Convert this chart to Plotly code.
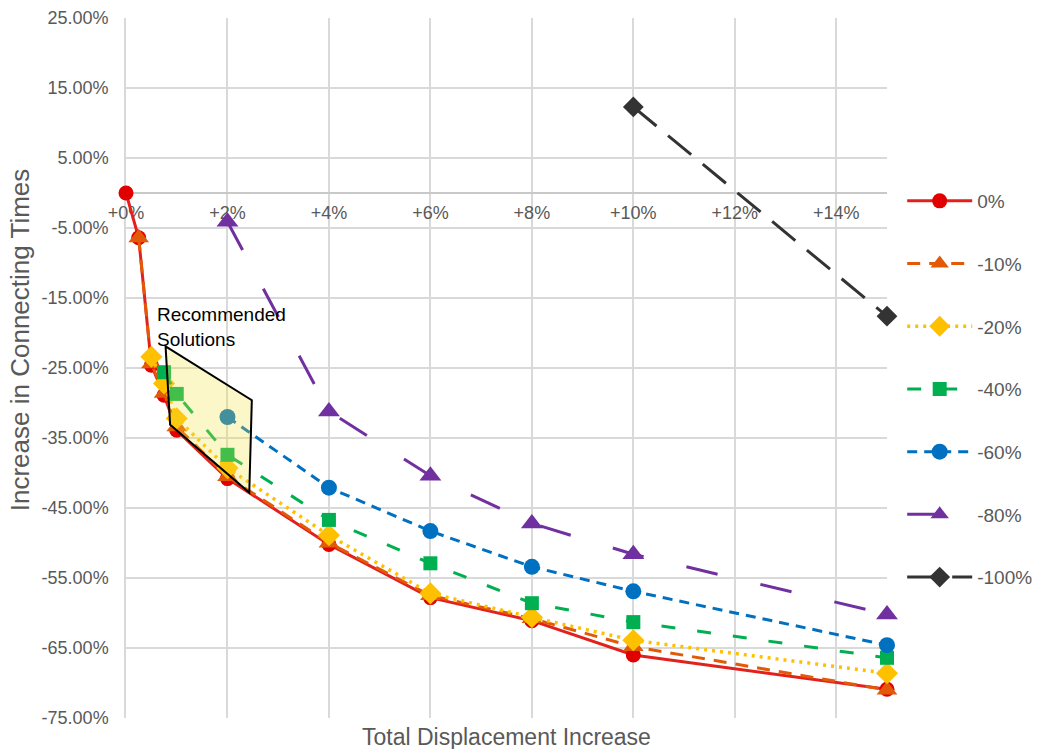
import plotly.graph_objects as go

# Displacement increase (%) at which each scenario was evaluated
x_0 = [0, 0.25, 0.5, 0.75, 1, 2, 4, 6, 8, 10, 15]
x_10 = [0.25, 0.5, 0.75, 1, 2, 4, 6, 8, 10, 15]
x_20 = [0.5, 0.75, 1, 2, 4, 6, 8, 10, 15]
x_40 = [0.75, 1, 2, 4, 6, 8, 10, 15]
x_60 = [2, 4, 6, 8, 10, 15]
x_80 = [2, 4, 6, 8, 10, 15]
x_100 = [10, 15]

# Increase in connecting times (%) for each scenario
y_0 = [0, -6.4, -24.6, -28.9, -33.9, -40.8, -50.2, -57.8, -61.1, -66.0, -70.9]
y_10 = [-6.4, -24.4, -28.6, -33.4, -40.5, -50.0, -57.5, -60.8, -64.8, -71.0]
y_20 = [-23.4, -27.2, -32.2, -39.3, -48.9, -57.2, -60.6, -63.9, -68.6]
y_40 = [-25.6, -28.7, -37.4, -46.7, -52.9, -58.6, -61.3, -66.4]
y_60 = [-32.0, -42.1, -48.3, -53.4, -56.9, -64.6]
y_80 = [-4.1, -31.2, -40.4, -47.2, -51.6, -60.2]
y_100 = [12.3, -17.6]

series_names = ["0%", "-10%", "-20%", "-40%", "-60%", "-80%", "-100%"]

x_tick_vals = [0, 2, 4, 6, 8, 10, 12, 14]
x_tick_text = ["+0%", "+2%", "+4%", "+6%", "+8%", "+10%", "+12%", "+14%"]
y_tick_vals = [-75, -65, -55, -45, -35, -25, -15, -5, 5, 15, 25]
y_tick_text = [f"{v:.2f}%" for v in y_tick_vals]

# Corners of the highlighted "recommended" region (x %, y %)
region_x = [0.78, 2.48, 2.43, 0.87]
region_y = [-21.9, -29.6, -42.8, -33.1]

styles = [
    dict(line=dict(color="#E2211C", width=3, dash="solid"),
         marker=dict(color="#E00000", symbol="circle", size=15)),
    dict(line=dict(color="#E25A07", width=3, dash="13px,9px"),
         marker=dict(color="#E25A07", symbol="triangle-up", size=18)),
    dict(line=dict(color="#FFC000", width=3.5, dash="3px,5px"),
         marker=dict(color="#FFC000", symbol="diamond", size=17)),
    dict(line=dict(color="#00B050", width=3, dash="14px,22px"),
         marker=dict(color="#00B050", symbol="square", size=14)),
    dict(line=dict(color="#0070C0", width=3, dash="10px,7px"),
         marker=dict(color="#0070C0", symbol="circle", size=16)),
    dict(line=dict(color="#7030A0", width=3, dash="32px,44px"),
         marker=dict(color="#7030A0", symbol="triangle-up", size=19)),
    dict(line=dict(color="#333333", width=3, dash="30px,15px"),
         marker=dict(color="#333333", symbol="diamond", size=16)),
]

xs = [x_0, x_10, x_20, x_40, x_60, x_80, x_100]
ys = [y_0, y_10, y_20, y_40, y_60, y_80, y_100]

fig = go.Figure()
for i, (name, xv, yv, st) in enumerate(zip(series_names, xs, ys, styles)):
    fig.add_trace(go.Scatter(
        x=xv, y=yv, name=name, mode="lines+markers",
        line=st["line"], marker=st["marker"],
        legendgroup=f"g{i}", cliponaxis=False,
    ))

path = "M " + " L ".join(f"{a},{b}" for a, b in zip(region_x, region_y)) + " Z"
fig.add_shape(type="path", path=path, xref="x", yref="y",
              fillcolor="rgba(240,228,60,0.28)",
              line=dict(color="black", width=2), layer="above")

grey = "#595959"
fig.add_annotation(x=0.57, y=-15.6, xref="x", yref="y",
                   text="Recommended<br>Solutions", showarrow=False,
                   xanchor="left", yanchor="top", align="left",
                   font=dict(family="Arial, Liberation Sans", size=19, color="black"))
fig.add_annotation(x=0.5, y=-0.027, xref="paper", yref="paper",
                   text="Total Displacement Increase", showarrow=False,
                   xanchor="center", yanchor="middle",
                   font=dict(family="Arial, Liberation Sans", size=23, color=grey))
fig.add_annotation(x=-0.139, y=0.54, xref="paper", yref="paper",
                   text="Increase in Connecting Times", showarrow=False,
                   textangle=-90, xanchor="center", yanchor="middle",
                   font=dict(family="Arial, Liberation Sans", size=26, color=grey))

fig.update_layout(
    width=1037, height=749,
    margin=dict(l=126, r=150, t=18, b=31, autoexpand=False),
    paper_bgcolor="white", plot_bgcolor="white",
    font=dict(family="Arial, Liberation Sans", color=grey, size=18),
    showlegend=True,
    legend=dict(xref="container", yref="container", x=0.870, y=0.757,
                xanchor="left", yanchor="top", maxheight=620,
                font=dict(size=19, color=grey), tracegroupgap=35,
                itemwidth=65, bgcolor="rgba(0,0,0,0)"),
    xaxis=dict(range=[0, 15], tickvals=x_tick_vals, ticktext=x_tick_text,
               showgrid=True, gridcolor="#D9D9D9", gridwidth=1.5,
               zeroline=False, anchor="free", position=0.75,
               showline=True, linecolor="#C8C8C8", linewidth=2,
               ticks="", ticklabelstandoff=3, layer="below traces",
               tickfont=dict(size=18, color=grey)),
    yaxis=dict(range=[-75, 25], tickvals=y_tick_vals, ticktext=y_tick_text,
               showgrid=True, gridcolor="#D9D9D9", gridwidth=1.5,
               zeroline=False, showline=True, linecolor="#D9D9D9", linewidth=1.5,
               ticks="", ticklabelstandoff=12, layer="below traces",
               tickfont=dict(size=18, color=grey)),
)

fig.write_html("out.html")
